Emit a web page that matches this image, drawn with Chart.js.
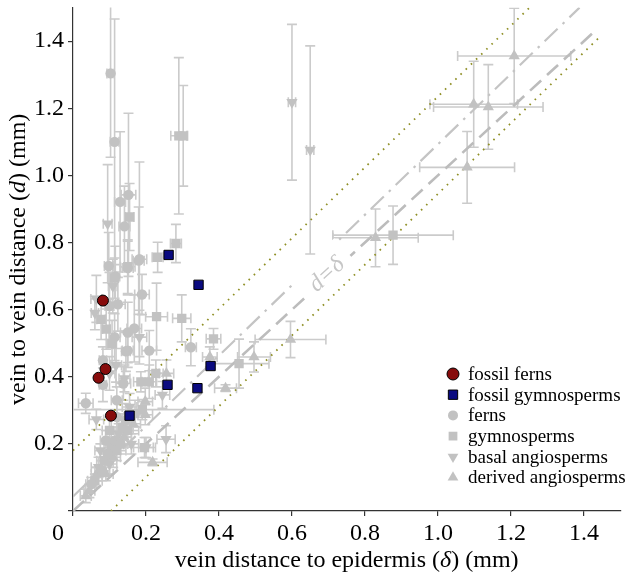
<!DOCTYPE html>
<html>
<head>
<meta charset="utf-8">
<script src="https://cdn.jsdelivr.net/npm/chart.js@4.4.1/dist/chart.umd.min.js"></script>
<style>
html,body{margin:0;padding:0;background:#fff;}
#wrap{width:628px;height:577px;}
</style>
</head>
<body>
<div id="wrap"><canvas id="c" width="628" height="577"></canvas></div>
<script>
// ---------- data ----------
const xTickValues = [0, 0.2, 0.4, 0.6, 0.8, 1.0, 1.2, 1.4];
const xTickLabels = ['0     ', '0.2', '0.4', '0.6', '0.8', '1.0', '1.2', '1.4'];
const yTickValues = [0, 0.2, 0.4, 0.6, 0.8, 1.0, 1.2, 1.4];
const yTickLabels = ['', '0.2', '0.4', '0.6', '0.8', '1.0', '1.2', '1.4'];

const seriesNames = ['fossil ferns', 'fossil gymnosperms', 'ferns', 'gymnosperms', 'basal angiosperms', 'derived angiosperms'];

const xTitleParts = ['vein distance to epidermis (', 'δ', ') (mm)'];
const yTitleParts = ['vein to vein distance (', 'd', ') (mm)'];
const guideLabelText = 'd=δ';
const guideLabelAt = [0.696, 0.704];

// [δ, d]
const fossilFerns = [[0.082, 0.627], [0.089, 0.423], [0.070, 0.397], [0.104, 0.284]];
const fossilGymnosperms = [[0.262, 0.763], [0.344, 0.674], [0.377, 0.432], [0.341, 0.366], [0.259, 0.376], [0.155, 0.284]];

// [δ, d, δ error, d error]
const ferns = [
  [0.103, 1.304, 0.010, 0.25], [0.114, 1.100, 0.012, 0.366], [0.129, 0.921, 0.015, 0.209],
  [0.152, 0.942, 0.020, 0.243], [0.141, 0.848, 0.015, 0.12], [0.182, 0.750, 0.020, 0.29],
  [0.098, 0.730, 0.012, 0.10], [0.116, 0.699, 0.012, 0.09], [0.180, 0.746, 0.015, 0.16],
  [0.150, 0.724, 0.015, 0.08], [0.123, 0.616, 0.020, 0.08], [0.100, 0.611, 0.012, 0.10],
  [0.189, 0.645, 0.020, 0.06], [0.114, 0.518, 0.015, 0.07], [0.150, 0.532, 0.020, 0.09],
  [0.168, 0.544, 0.020, 0.10], [0.150, 0.478, 0.015, 0.05], [0.145, 0.476, 0.012, 0.06],
  [0.209, 0.478, 0.020, 0.06], [0.323, 0.488, 0.015, 0.055], [0.082, 0.449, 0.010, 0.04],
  [0.082, 0.376, 0.010, 0.05], [0.035, 0.321, 0.020, 0.03], [0.120, 0.330, 0.015, 0.04],
  [0.138, 0.380, 0.020, 0.05], [0.050, 0.080, 0.015, 0.02], [0.080, 0.120, 0.020, 0.03],
  [0.095, 0.170, 0.020, 0.03], [0.115, 0.210, 0.020, 0.04], [0.130, 0.200, 0.020, 0.03],
  [0.145, 0.270, 0.025, 0.05], [0.090, 0.210, 0.015, 0.03], [0.120, 0.280, 0.020, 0.05]
];
const gymnosperms = [
  [0.290, 1.118, 0.022, 0.233], [0.302, 1.118, 0.012, 0.15], [0.155, 0.876, 0.012, 0.10],
  [0.232, 0.756, 0.015, 0.045], [0.282, 0.797, 0.015, 0.057], [0.150, 0.728, 0.020, 0.08],
  [0.114, 0.694, 0.010, 0.06], [0.229, 0.579, 0.030, 0.10], [0.298, 0.574, 0.025, 0.07],
  [0.077, 0.571, 0.012, 0.06], [0.091, 0.542, 0.010, 0.06], [0.107, 0.498, 0.012, 0.07],
  [0.209, 0.385, 0.020, 0.05], [0.227, 0.410, 0.020, 0.04], [0.186, 0.385, 0.020, 0.03],
  [0.385, 0.513, 0.020, 0.031], [0.455, 0.439, 0.082, 0.073], [0.877, 0.822, 0.165, 0.087],
  [0.196, 0.189, 0.030, 0.03], [0.190, 0.302, 0.196, 0.03], [0.060, 0.090, 0.020, 0.02],
  [0.085, 0.150, 0.020, 0.03], [0.105, 0.190, 0.020, 0.03], [0.120, 0.180, 0.025, 0.03],
  [0.135, 0.250, 0.030, 0.04], [0.150, 0.240, 0.030, 0.05], [0.100, 0.240, 0.020, 0.04],
  [0.170, 0.290, 0.020, 0.04]
];
const basalAngiosperms = [
  [0.600, 1.218, 0.010, 0.232], [0.650, 1.076, 0.010, 0.31], [0.095, 0.856, 0.012, 0.176],
  [0.109, 0.670, 0.012, 0.08], [0.064, 0.632, 0.015, 0.07], [0.060, 0.590, 0.010, 0.05],
  [0.182, 0.518, 0.020, 0.08], [0.118, 0.434, 0.015, 0.05], [0.100, 0.410, 0.015, 0.05],
  [0.141, 0.395, 0.015, 0.04], [0.245, 0.346, 0.020, 0.04], [0.064, 0.273, 0.020, 0.03],
  [0.255, 0.214, 0.025, 0.04], [0.200, 0.189, 0.020, 0.03], [0.070, 0.130, 0.020, 0.03],
  [0.100, 0.140, 0.020, 0.03], [0.125, 0.230, 0.020, 0.03], [0.160, 0.200, 0.020, 0.03],
  [0.075, 0.180, 0.015, 0.02], [0.155, 0.310, 0.020, 0.04]
];
const derivedAngiosperms = [
  [1.209, 1.356, 0.155, 0.142], [1.098, 1.212, 0.120, 0.128], [1.138, 1.204, 0.150, 0.126],
  [1.080, 1.024, 0.130, 0.107], [0.829, 0.814, 0.117, 0.086], [0.596, 0.511, 0.097, 0.054],
  [0.496, 0.459, 0.045, 0.045], [0.375, 0.459, 0.020, 0.03], [0.418, 0.366, 0.030, 0.01],
  [0.256, 0.410, 0.020, 0.04], [0.198, 0.287, 0.020, 0.03], [0.198, 0.326, 0.020, 0.04],
  [0.218, 0.145, 0.040, 0.01], [0.035, 0.045, 0.015, 0.02], [0.045, 0.060, 0.015, 0.02],
  [0.065, 0.110, 0.015, 0.02], [0.090, 0.110, 0.020, 0.02], [0.110, 0.160, 0.020, 0.03],
  [0.140, 0.220, 0.020, 0.03], [0.165, 0.260, 0.020, 0.03]
];

// guide lines: [δ, d] end points
const lineOneToOne = [[0, 0], [1.437, 1.437]];
const lineDashDot = [[0, 0.043], [1.388, 1.5]];
const lineUpperBound = [[0, 0.18], [1.251, 1.5]];
const lineLowerBound = [[0.104, 0], [1.44, 1.409]];

// ---------- build ----------
const SERIF = '"Liberation Serif", "Times New Roman", serif';
const GREY = '#c2c2c2';
const toPts = arr => arr.map(r => ({x: r[0], y: r[1]}));
const toErr = arr => arr.map(r => [r[2], r[3]]);

function guide(points, dash, color, width) {
  return {
    data: toPts(points), showLine: true, pointRadius: 0, borderColor: color,
    borderWidth: width, borderDash: dash, fill: false, order: 3, isGuide: true
  };
}

const datasets = [
  {label: seriesNames[0], data: toPts(fossilFerns), pointStyle: 'circle', pointRadius: 5.5,
   backgroundColor: '#870c0c', borderColor: '#000', borderWidth: 1, order: 0, legendRadius: 6, rank: 0},
  {label: seriesNames[1], data: toPts(fossilGymnosperms), pointStyle: 'rect', pointRadius: 6.6,
   backgroundColor: '#0b0b80', borderColor: '#000', borderWidth: 1, order: 0, legendRadius: 6.6, rank: 1},
  {label: seriesNames[2], data: toPts(ferns), errors: toErr(ferns), pointStyle: 'circle', pointRadius: 5.2,
   backgroundColor: GREY, borderWidth: 0, order: 1, legendRadius: 5, rank: 2},
  {label: seriesNames[3], data: toPts(gymnosperms), errors: toErr(gymnosperms), pointStyle: 'rect', pointRadius: 6.6,
   backgroundColor: GREY, borderWidth: 0, order: 1, legendRadius: 6.2, rank: 3},
  {label: seriesNames[4], data: toPts(basalAngiosperms), errors: toErr(basalAngiosperms), pointStyle: 'triangle', pointRotation: 180, pointRadius: 6.5,
   backgroundColor: GREY, borderWidth: 0, order: 1, legendRadius: 6.2, rank: 4},
  {label: seriesNames[5], data: toPts(derivedAngiosperms), errors: toErr(derivedAngiosperms), pointStyle: 'triangle', pointRadius: 6.5,
   backgroundColor: GREY, borderWidth: 0, order: 1, legendRadius: 6.2, rank: 5},
  guide(lineOneToOne, [15, 8], '#bcbcbc', 2.6),
  guide(lineDashDot, [18, 7, 2.5, 7], '#c4c4c4', 2.2),
  guide(lineUpperBound, [1.6, 5.6], '#8f8f25', 1.8),
  guide(lineLowerBound, [1.6, 5.6], '#8f8f25', 1.8)
];

const errorBarPlugin = {
  id: 'errorBars',
  beforeDatasetsDraw(chart) {
    const {ctx, chartArea: a} = chart;
    const xs = chart.scales.x, ys = chart.scales.y;
    ctx.save();
    ctx.beginPath();
    ctx.rect(a.left, a.top, a.right - a.left, a.bottom - a.top);
    ctx.clip();
    ctx.strokeStyle = '#cbcbcb';
    ctx.lineWidth = 1.6;
    const cap = 5;
    chart.data.datasets.forEach(ds => {
      if (!ds.errors) return;
      ds.errors.forEach((e, i) => {
        const p = ds.data[i];
        const px = xs.getPixelForValue(p.x), py = ys.getPixelForValue(p.y);
        ctx.beginPath();
        if (e[0]) {
          const l = xs.getPixelForValue(p.x - e[0]), r = xs.getPixelForValue(p.x + e[0]);
          ctx.moveTo(l, py); ctx.lineTo(r, py);
          ctx.moveTo(l, py - cap); ctx.lineTo(l, py + cap);
          ctx.moveTo(r, py - cap); ctx.lineTo(r, py + cap);
        }
        if (e[1]) {
          const t = ys.getPixelForValue(p.y + e[1]), b = ys.getPixelForValue(p.y - e[1]);
          ctx.moveTo(px, t); ctx.lineTo(px, b);
          ctx.moveTo(px - cap, t); ctx.lineTo(px + cap, t);
          ctx.moveTo(px - cap, b); ctx.lineTo(px + cap, b);
        }
        ctx.stroke();
      });
    });
    ctx.restore();
  }
};

const guideLabelPlugin = {
  id: 'guideLabel',
  afterDatasetsDraw(chart) {
    const {ctx} = chart;
    const xs = chart.scales.x, ys = chart.scales.y;
    const cx = xs.getPixelForValue(guideLabelAt[0]), cy = ys.getPixelForValue(guideLabelAt[1]);
    const ang = Math.atan2(ys.getPixelForValue(1) - ys.getPixelForValue(0), xs.getPixelForValue(1) - xs.getPixelForValue(0));
    ctx.save();
    ctx.translate(cx, cy);
    ctx.rotate(ang);
    ctx.fillStyle = '#fff';
    ctx.fillRect(-30, -22, 60, 32);
    ctx.fillStyle = '#c6c6c6';
    ctx.font = 'italic 24px ' + SERIF;
    ctx.textAlign = 'center';
    ctx.textBaseline = 'middle';
    ctx.fillText(guideLabelText, 0, 0);
    ctx.restore();
  }
};

function drawMarker(ctx, ds, x, y) {
  const opts = {pointStyle: ds.pointStyle, radius: ds.legendRadius, rotation: ds.pointRotation || 0, borderWidth: ds.borderWidth || 0};
  ctx.fillStyle = ds.backgroundColor;
  ctx.strokeStyle = ds.borderColor || ds.backgroundColor;
  ctx.lineWidth = ds.borderWidth || 0;
  Chart.helpers.drawPoint(ctx, opts, x, y);
}

const legendPlugin = {
  id: 'customLegend',
  afterDraw(chart) {
    const ctx = chart.ctx;
    const items = chart.data.datasets.filter(d => !d.isGuide).sort((a, b) => a.rank - b.rank);
    ctx.save();
    ctx.font = '19px ' + SERIF;
    ctx.textAlign = 'left';
    ctx.textBaseline = 'middle';
    items.forEach((ds, i) => {
      const yy = 374 + i * 20.7;
      drawMarker(ctx, ds, 453, yy);
      ctx.fillStyle = '#000';
      ctx.fillText(ds.label, 468, yy + 1);
    });
    ctx.restore();
  }
};

function drawRich(ctx, parts, cx, cy, size) {
  const fonts = [size + 'px ' + SERIF, 'italic ' + size + 'px ' + SERIF, size + 'px ' + SERIF];
  const widths = parts.map((t, i) => { ctx.font = fonts[i]; return ctx.measureText(t).width; });
  let x = cx - widths.reduce((s, w) => s + w, 0) / 2;
  parts.forEach((t, i) => { ctx.font = fonts[i]; ctx.fillText(t, x, cy); x += widths[i]; });
}

const titlePlugin = {
  id: 'axisTitles',
  afterDraw(chart) {
    const {ctx, chartArea: a} = chart;
    ctx.save();
    ctx.fillStyle = '#000';
    ctx.textAlign = 'left';
    ctx.textBaseline = 'middle';
    drawRich(ctx, xTitleParts, (a.left + a.right) / 2, 561, 24);
    ctx.translate(19, (a.top + a.bottom) / 2);
    ctx.rotate(-Math.PI / 2);
    drawRich(ctx, yTitleParts, 0, 0, 24);
    ctx.restore();
  }
};

const axisCommon = {
  type: 'linear', min: 0, max: 1.5,
  grid: {drawOnChartArea: false, drawTicks: true, tickLength: 5, color: '#333', lineWidth: 1.2},
  border: {display: true, color: '#333', width: 1.2}
};

new Chart(document.getElementById('c'), {
  type: 'scatter',
  data: {datasets},
  options: {
    responsive: false, animation: false, devicePixelRatio: 1,
    layout: {padding: {top: 1, right: 5, left: 0, bottom: 0}},
    plugins: {legend: {display: false}, tooltip: {enabled: false}},
    scales: {
      x: Object.assign({}, axisCommon, {
        afterBuildTicks: s => { s.ticks = xTickValues.map(v => ({value: v})); },
        afterFit: s => { s.height = 66; s.paddingLeft = 0; s.paddingRight = 0; },
        ticks: {callback: (v, i) => xTickLabels[i], font: {family: SERIF, size: 24}, color: '#000', padding: 3, maxRotation: 0, autoSkip: false}
      }),
      y: Object.assign({}, axisCommon, {
        afterBuildTicks: s => { s.ticks = yTickValues.map(v => ({value: v})); },
        afterFit: s => { s.width = 73; s.paddingTop = 0; s.paddingBottom = 0; },
        ticks: {callback: (v, i) => yTickLabels[i], font: {family: SERIF, size: 24}, color: '#000', padding: 4, autoSkip: false}
      })
    }
  },
  plugins: [errorBarPlugin, guideLabelPlugin, legendPlugin, titlePlugin]
});
</script>
</body>
</html>
